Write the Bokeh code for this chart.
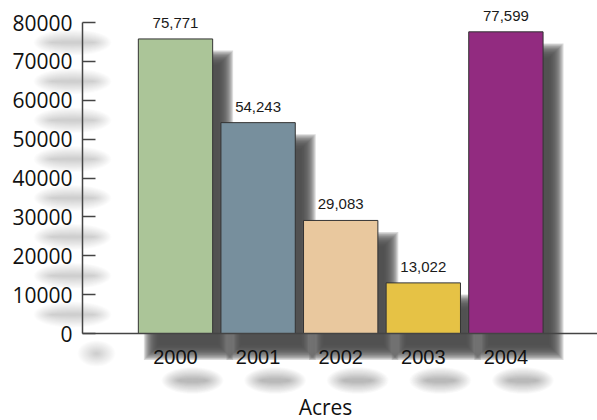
import numpy as np
from bokeh.plotting import figure
from bokeh.models import Range1d, FixedTicker, NumeralTickFormatter, Label
from bokeh.core.properties import value
from bokeh.embed import file_html
from bokeh.resources import INLINE

# ---------------- data ----------------
years = ["2000", "2001", "2002", "2003", "2004"]
acres = [75771, 54243, 29083, 13022, 77599]
colors = ["#ABC598", "#778F9D", "#E9C89E", "#E6C245", "#922B80"]
y_ticks = [0, 10000, 20000, 30000, 40000, 50000, 60000, 70000, 80000]
x_title = "Acres"

# ---------------- layout geometry (pixels) ----------------
W, H = 597, 420
X0_PX = 175.0          # pixel centre of first category
STEP_PX = 82.6         # pixels per category
Y0_PX = 333.0          # pixel row of value 0
Y_PER_PX = 80000 / 311.0
AXIS_PX = 82.0         # pixel column of the y axis
BAR_W = 0.9

def dx(px):
    return px / STEP_PX

def dy(px):
    return px * Y_PER_PX

x_lo = 1 - X0_PX / STEP_PX
x_hi = x_lo + W / STEP_PX
y_hi = Y0_PX * Y_PER_PX
y_lo = -(H - Y0_PX) * Y_PER_PX

def px_x(px):
    return x_lo + dx(px)

def px_y(py):
    return (Y0_PX - py) * Y_PER_PX

p = figure(width=W, height=H, x_range=Range1d(x_lo, x_hi), y_range=Range1d(y_lo, y_hi),
           output_backend="svg", toolbar_location=None, min_border=0,
           outline_line_color=None, background_fill_color="white")
p.grid.visible = False

xs = np.arange(1, len(years) + 1, dtype=float)
vals = np.array(acres, dtype=float)


def soft_box(left, right, top, bottom, blur, color, alpha, n=14):
    for k in range(n):
        d = blur * (1 - 2 * (k + 0.5) / n)
        p.quad(left=left - dx(d), right=right + dx(d), top=top + dy(d), bottom=bottom - dy(d),
               fill_color=color, fill_alpha=alpha, line_color=None)


def soft_blob(x, y, w, h, blur, color, alpha, n=24):
    for k in range(n):
        d = blur * (1 - k / n)
        p.ellipse(x=x, y=y, width=np.maximum(w + 2 * d, 1.0), height=np.maximum(h + 1.4 * d, 1.0),
                  width_units="screen", height_units="screen",
                  fill_color=color, fill_alpha=alpha, line_color=None)


# bar shadows
SOX, SOY = 13, 19
soft_box(xs - BAR_W / 2 + dx(SOX), xs + BAR_W / 2 + dx(SOX), vals - dy(SOY), np.full_like(vals, -dy(SOY)),
         8, "#4a4a4a", 0.2, n=14)

# x tick label shadows
soft_blob(xs + dx(17), np.full_like(xs, px_y(380)), np.full_like(xs, 26.0), np.full_like(xs, 2.0),
          18, "#555555", 0.014)

# y tick label shadows
yt = np.array(y_ticks, dtype=float)
wid = np.array([12.0 * len(str(t)) for t in y_ticks])
cx = 72 - wid / 2 + 30
soft_blob(x_lo + dx(cx), yt - dy(20), np.maximum(wid - 18, 2.0), np.full_like(yt, 1.0),
          18, "#555555", 0.012)

# bars
p.vbar(x=xs, top=vals, bottom=0, width=BAR_W, fill_color=colors, line_color="#333333", line_width=1)

# value labels
p.text(x=xs, y=vals, text=[f"{v:,}" for v in acres], y_offset=-16,
       text_align="center", text_baseline="alphabetic",
       text_font=value("Liberation Sans"), text_font_size="15px", text_color="#1a1a1a")

# y axis
ya = p.yaxis[0]
ya.fixed_location = px_x(AXIS_PX)
ya.bounds = (0, 80000)
ya.ticker = FixedTicker(ticks=y_ticks)
ya.formatter = NumeralTickFormatter(format="0")
ya.major_tick_in = 13
ya.major_tick_out = 0
ya.minor_tick_line_color = None
ya.major_label_standoff = 10
ya.major_label_text_font = "Open Sans"
ya.major_label_text_font_size = "21px"
ya.major_label_text_color = "#111111"
ya.axis_line_color = "#444444"
ya.axis_line_width = 1.5
ya.major_tick_line_color = "#444444"
ya.major_tick_line_width = 1.5

# x axis
xa = p.xaxis[0]
xa.fixed_location = 0
xa.bounds = (px_x(AXIS_PX), x_hi)
xa.ticker = FixedTicker(ticks=list(xs))
xa.major_label_overrides = {float(x): y for x, y in zip(xs, years)}
xa.major_tick_in = 0
xa.major_tick_out = 0
xa.minor_tick_line_color = None
xa.major_label_standoff = 16
xa.major_label_text_font = "Liberation Sans"
xa.major_label_text_font_size = "20px"
xa.major_label_text_color = "#111111"
xa.axis_line_color = "#444444"
xa.axis_line_width = 1.5

p.add_layout(Label(x=px_x(325), y=px_y(406), text=x_title, text_align="center",
                   text_baseline="middle", text_font="Open Sans",
                   text_font_size="21px", text_color="#111111"))

open("out.html", "w").write(file_html(p, INLINE))
